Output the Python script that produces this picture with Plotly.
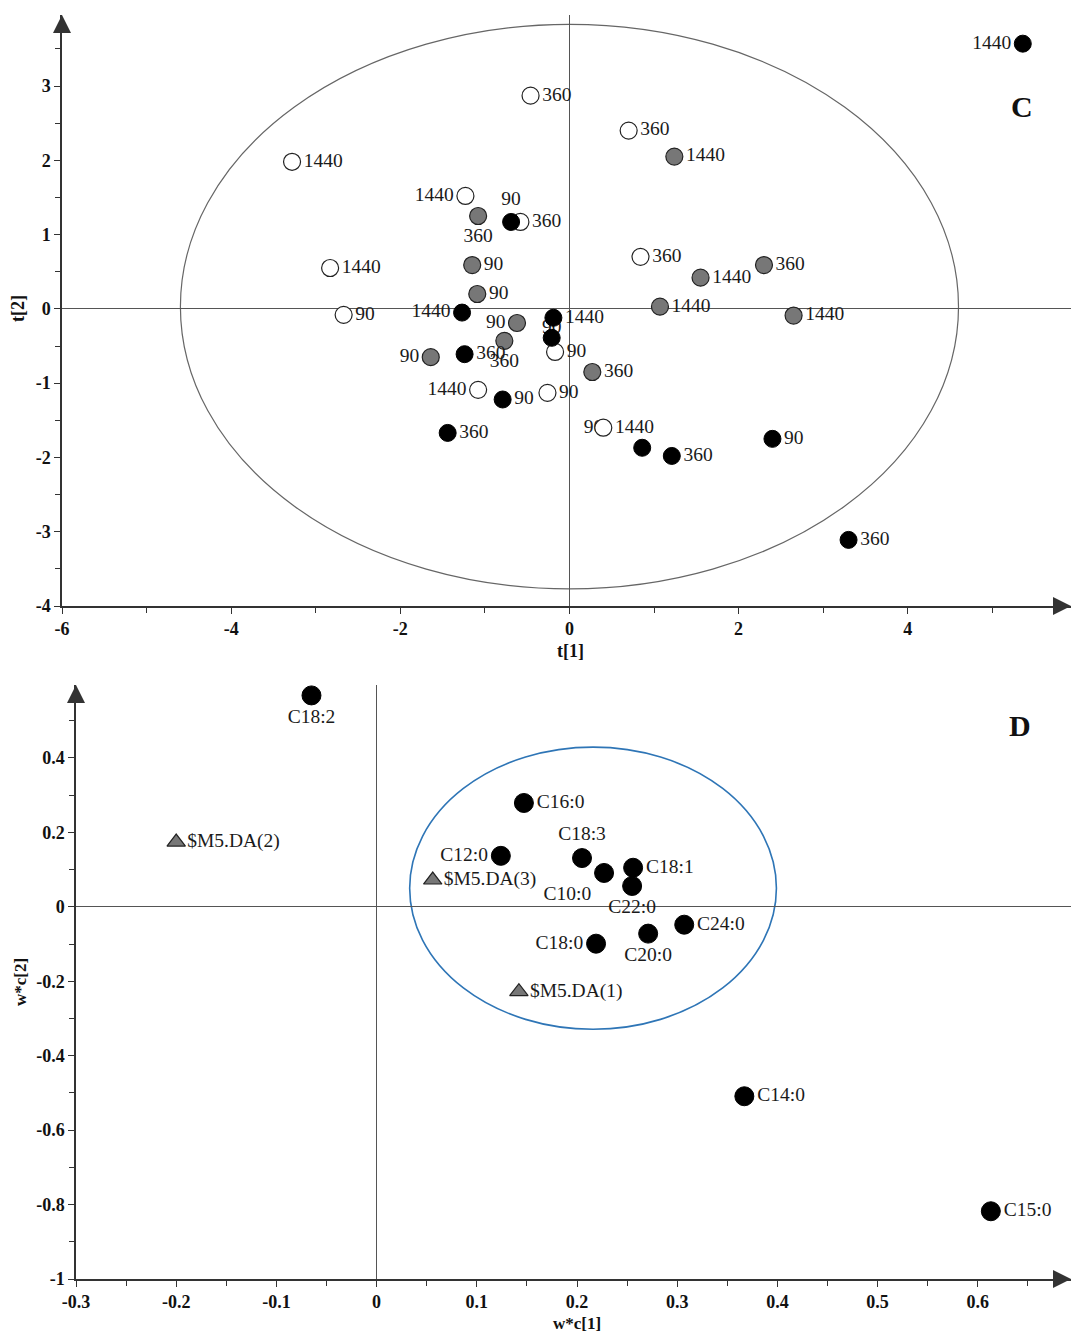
import plotly.graph_objects as go

W, H = 1071, 1335
FONT = "Liberation Serif, Times New Roman, serif"

# ---------------- Panel C : scores t[1] / t[2] ----------------
open_x = [-0.46, 0.70, -3.28, -1.23, -0.58, -2.83, 0.84, -2.67, -0.17, -1.08, -0.26, 0.40]
open_y = [2.87, 2.40, 1.98, 1.52, 1.17, 0.55, 0.70, -0.08, -0.58, -1.09, -1.13, -1.60]
open_lab = ["360", "360", "1440", "1440", "360", "1440", "360", "90", "90", "1440", "90", "1440"]
open_pos = ["middle right", "middle right", "middle right", "middle left", "middle right", "middle right",
            "middle right", "middle right", "middle right", "middle left", "middle right", "middle right"]

grey_x = [1.24, -1.08, -1.15, -1.09, -0.62, -0.77, -1.64, 0.27, 1.07, 1.55, 2.30, 2.65]
grey_y = [2.05, 1.25, 0.59, 0.20, -0.19, -0.43, -0.65, -0.85, 0.03, 0.42, 0.59, -0.09]
grey_lab = ["1440", "360", "90", "90", "90", "360", "90", "360", "1440", "1440", "360", "1440"]
grey_pos = ["middle right", "bottom center", "middle right", "middle right", "middle left", "bottom center",
            "middle left", "middle right", "middle right", "middle right", "middle right", "middle right"]

black_x = [5.36, -0.69, -1.27, -0.19, -0.21, -1.24, -0.79, -1.44, 0.86, 1.21, 2.40, 3.30]
black_y = [3.57, 1.17, -0.05, -0.12, -0.39, -0.61, -1.22, -1.67, -1.87, -1.98, -1.75, -3.11]
black_lab = ["1440", "90", "1440", "1440", "", "360", "90", "360", "", "360", "90", "360"]
black_pos = ["middle left", "top center", "middle left", "middle right", "top center", "middle right",
             "middle right", "middle right", "middle right", "middle right", "middle right", "middle right"]

# second labels attached to existing points: (group, index, text, position)
extra_labels = [("open", 11, "90", "middle left"), ("black", 4, "90", "top center")]

c_ellipse = dict(cx=0.0, cy=0.03, rx=4.60, ry=3.80)
c_xrange = [-6, 5.93]
c_yrange = [-4, 3.956]
c_xticks = [-6, -4, -2, 0, 2, 4]
c_xticktext = ["-6", "-4", "-2", "0", "2", "4"]
c_xminor = [-5, -3, -1, 1, 3, 5]
c_yticks = [-4, -3, -2, -1, 0, 1, 2, 3]
c_yticktext = ["-4", "-3", "-2", "-1", "0", "1", "2", "3"]
c_yminor = [-3.5, -2.5, -1.5, -0.5, 0.5, 1.5, 2.5, 3.5]

# ---------------- Panel D : loadings w*c[1] / w*c[2] ----------------
fa_names = ["C18:2", "C16:0", "C12:0", "C18:3", "C10:0", "C18:1", "C22:0", "C24:0", "C20:0", "C18:0", "C14:0", "C15:0"]
fa_x = [-0.065, 0.147, 0.124, 0.205, 0.227, 0.256, 0.255, 0.307, 0.271, 0.219, 0.367, 0.613]
fa_y = [0.568, 0.279, 0.137, 0.131, 0.091, 0.105, 0.056, -0.048, -0.072, -0.099, -0.509, -0.818]
fa_pos = ["bottom center", "middle right", "middle left", "top center", "bottom left", "middle right",
          "bottom center", "middle right", "bottom center", "middle left", "middle right", "middle right"]

da_names = ["$M5.DA(1)", "$M5.DA(2)", "$M5.DA(3)"]
da_x = [0.142, -0.200, 0.056]
da_y = [-0.228, 0.174, 0.072]

d_ellipse = dict(cx=0.216, cy=0.050, rx=0.183, ry=0.379)
d_xrange = [-0.3, 0.693]
d_yrange = [-1.0, 0.596]
d_xticks = [-0.3, -0.2, -0.1, 0, 0.1, 0.2, 0.3, 0.4, 0.5, 0.6]
d_xticktext = ["-0.3", "-0.2", "-0.1", "0", "0.1", "0.2", "0.3", "0.4", "0.5", "0.6"]
d_xminor = [-0.25, -0.15, -0.05, 0.05, 0.15, 0.25, 0.35, 0.45, 0.55, 0.65]
d_yticks = [-1.0, -0.8, -0.6, -0.4, -0.2, 0, 0.2, 0.4]
d_yticktext = ["-1", "-0.8", "-0.6", "-0.4", "-0.2", "0", "0.2", "0.4"]
d_yminor = [-0.9, -0.7, -0.5, -0.3, -0.1, 0.1, 0.3, 0.5]

# ---------------- figure ----------------
fig = go.Figure()
label_font = dict(family=FONT, size=19.5, color="#1a1a1a")

groups = {"open": (open_x, open_y), "grey": (grey_x, grey_y), "black": (black_x, black_y)}
ex_x = [groups[g][0][i] for g, i, _, _ in extra_labels]
ex_y = [groups[g][1][i] for g, i, _, _ in extra_labels]
fig.add_trace(go.Scatter(x=ex_x, y=ex_y, mode="text", text=[t for _, _, t, _ in extra_labels],
                         textposition=[p for _, _, _, p in extra_labels], textfont=label_font,
                         xaxis="x", yaxis="y", hoverinfo="skip"))

fig.add_trace(go.Scatter(x=open_x, y=open_y, mode="markers+text", text=open_lab, textposition=open_pos,
                         textfont=label_font, xaxis="x", yaxis="y",
                         marker=dict(size=17, color="white", line=dict(color="#222", width=1.2))))
fig.add_trace(go.Scatter(x=grey_x, y=grey_y, mode="markers+text", text=grey_lab, textposition=grey_pos,
                         textfont=label_font, xaxis="x", yaxis="y",
                         marker=dict(size=17, color="#777777", line=dict(color="#222", width=1.2))))
fig.add_trace(go.Scatter(x=black_x, y=black_y, mode="markers+text", text=black_lab, textposition=black_pos,
                         textfont=label_font, xaxis="x", yaxis="y",
                         marker=dict(size=17, color="black", line=dict(color="black", width=1))))

fig.add_trace(go.Scatter(x=da_x, y=da_y, mode="markers+text", text=da_names, textposition="middle right",
                         textfont=label_font, xaxis="x2", yaxis="y2",
                         marker=dict(symbol="triangle-up", size=16, color="#777777",
                                     line=dict(color="#222", width=1.2))))
fig.add_trace(go.Scatter(x=fa_x, y=fa_y, mode="markers+text", text=fa_names, textposition=fa_pos,
                         textfont=label_font, xaxis="x2", yaxis="y2",
                         marker=dict(size=19, color="black", line=dict(color="black", width=1))))

# axis arrow heads
for xa, ya, xr, yr in [("x", "y", c_xrange, c_yrange), ("x2", "y2", d_xrange, d_yrange)]:
    fig.add_trace(go.Scatter(x=[xr[0]], y=[yr[1]], mode="markers", xaxis=xa, yaxis=ya, cliponaxis=False,
                             marker=dict(symbol="arrow-up", size=18, color="#333"), hoverinfo="skip"))
    fig.add_trace(go.Scatter(x=[xr[1]], y=[yr[0]], mode="markers", xaxis=xa, yaxis=ya, cliponaxis=False,
                             marker=dict(symbol="arrow-right", size=18, color="#333"), hoverinfo="skip"))

# ellipses
fig.add_shape(type="circle", xref="x", yref="y", layer="below",
              x0=c_ellipse["cx"] - c_ellipse["rx"], x1=c_ellipse["cx"] + c_ellipse["rx"],
              y0=c_ellipse["cy"] - c_ellipse["ry"], y1=c_ellipse["cy"] + c_ellipse["ry"],
              line=dict(color="#666", width=1.2))
fig.add_shape(type="circle", xref="x2", yref="y2", layer="below",
              x0=d_ellipse["cx"] - d_ellipse["rx"], x1=d_ellipse["cx"] + d_ellipse["rx"],
              y0=d_ellipse["cy"] - d_ellipse["ry"], y1=d_ellipse["cy"] + d_ellipse["ry"],
              line=dict(color="#2E75B6", width=1.6))

tickfont = dict(family=FONT, size=18, color="#111", weight="bold")


def axis(domain, rng, tv, tt, minor, anchor):
    return dict(domain=domain, range=rng, anchor=anchor, tickmode="array", tickvals=tv, ticktext=tt,
                ticks="outside", ticklen=6, tickwidth=1, tickcolor="#333", tickfont=tickfont,
                minor=dict(tickvals=minor, ticks="outside", ticklen=5, tickwidth=1, tickcolor="#333"),
                showline=True, linecolor="#333", linewidth=1.5, showgrid=False, automargin=False,
                zeroline=True, zerolinecolor="#555", zerolinewidth=1, fixedrange=True)


fig.update_layout(
    width=W, height=H, autosize=False, margin=dict(l=0, r=0, t=0, b=0, pad=0),
    paper_bgcolor="white", plot_bgcolor="white", showlegend=False,
    xaxis=axis([62 / W, 1], c_xrange, c_xticks, c_xticktext, c_xminor, "y"),
    yaxis=axis([1 - 606 / H, 1 - 15 / H], c_yrange, c_yticks, c_yticktext, c_yminor, "x"),
    xaxis2=axis([76 / W, 1], d_xrange, d_xticks, d_xticktext, d_xminor, "y2"),
    yaxis2=axis([1 - 1279 / H, 1 - 685 / H], d_yrange, d_yticks, d_yticktext, d_yminor, "x2"),
)

ann = [
    ("<b>t[1]</b>", 570, 651, 0, 18),
    ("<b>t[2]</b>", 18, 309, -90, 18),
    ("<b>w*c[1]</b>", 577, 1323, 0, 17),
    ("<b>w*c[2]</b>", 20, 982, -90, 17),
    ("<b>C</b>", 1022, 106, 0, 30),
    ("<b>D</b>", 1020, 725, 0, 30),
]
for t, px, py, ang, sz in ann:
    fig.add_annotation(text=t, x=px / W, y=1 - py / H, xref="paper", yref="paper", showarrow=False,
                       textangle=ang, font=dict(family=FONT, size=sz, color="#111"),
                       xanchor="center", yanchor="middle")

fig.write_html("out.html", config={"displayModeBar": False},
               post_script="document.body.style.margin='0';")
